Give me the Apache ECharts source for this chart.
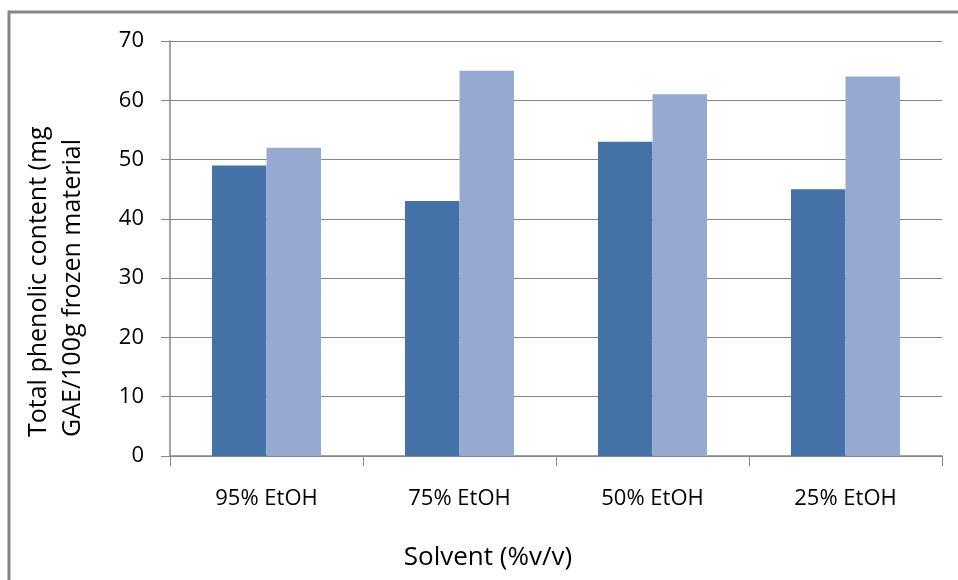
<!DOCTYPE html>
<html><head><meta charset="utf-8">
<script src="https://cdn.jsdelivr.net/npm/echarts@6/dist/echarts.min.js"></script>
<style>html,body{margin:0;padding:0;background:#fff}#c{width:958px;height:580px}</style>
</head><body><div id="c"></div>
<script>
const categories = ['95% EtOH', '75% EtOH', '50% EtOH', '25% EtOH'];
const seriesA = [49, 43, 53, 45];
const seriesB = [52, 65, 61, 64];
const yTicks = [0, 10, 20, 30, 40, 50, 60, 70];
const yTitleLines = ['Total phenolic content (mg', 'GAE/100g frozen material'];
const xTitle = 'Solvent (%v/v)';

const font = 'Open Sans';
const chart = echarts.init(document.getElementById('c'), null, {renderer: 'canvas'});
chart.setOption({
  animation: false,
  backgroundColor: '#fff',
  graphic: [{
    type: 'rect', shape: {x: 9, y: 12, width: 1200, height: 1200},
    style: {fill: 'none', stroke: '#868686', lineWidth: 3}, silent: true
  }, {
    type: 'text', x: 39, y: 437, rotation: Math.PI / 2,
    style: {text: yTitleLines[0], fill: '#000', font: '25px "Open Sans"', textAlign: 'left', textVerticalAlign: 'middle'}
  }, {
    type: 'text', x: 73, y: 437, rotation: Math.PI / 2,
    style: {text: yTitleLines[1], fill: '#000', font: '25px "Open Sans"', textAlign: 'left', textVerticalAlign: 'middle'}
  }, {
    type: 'text', x: 488, y: 558,
    style: {text: xTitle, fill: '#000', font: '26px "Open Sans"', textAlign: 'center', textVerticalAlign: 'middle'}
  }],
  grid: {left: 170, right: 16, top: 41, bottom: 124, containLabel: false},
  xAxis: {
    type: 'category', data: categories,
    axisLine: {lineStyle: {color: '#868686', width: 1.5}},
    axisTick: {show: true, length: 10, lineStyle: {color: '#868686'}},
    axisLabel: {color: '#000', fontFamily: font, fontSize: 22, margin: 32}
  },
  yAxis: {
    type: 'value', min: 0, max: 70, interval: 10,
    axisLine: {show: true, lineStyle: {color: '#868686', width: 1.5}},
    axisTick: {show: true, length: 9, inside: false, lineStyle: {color: '#868686'}},
    splitLine: {show: true, lineStyle: {color: '#868686', width: 1}},
    axisLabel: {color: '#000', fontFamily: font, fontSize: 22, margin: 26,
      formatter: v => yTicks.includes(v) ? String(v) : ''}
  },
  series: [
    {type: 'bar', data: seriesA, barGap: '0%', barCategoryGap: '43.5%', itemStyle: {color: '#4472A7'}},
    {type: 'bar', data: seriesB, barGap: '0%', barCategoryGap: '43.5%', itemStyle: {color: '#95A9D1'}}
  ]
});
</script></body></html>
